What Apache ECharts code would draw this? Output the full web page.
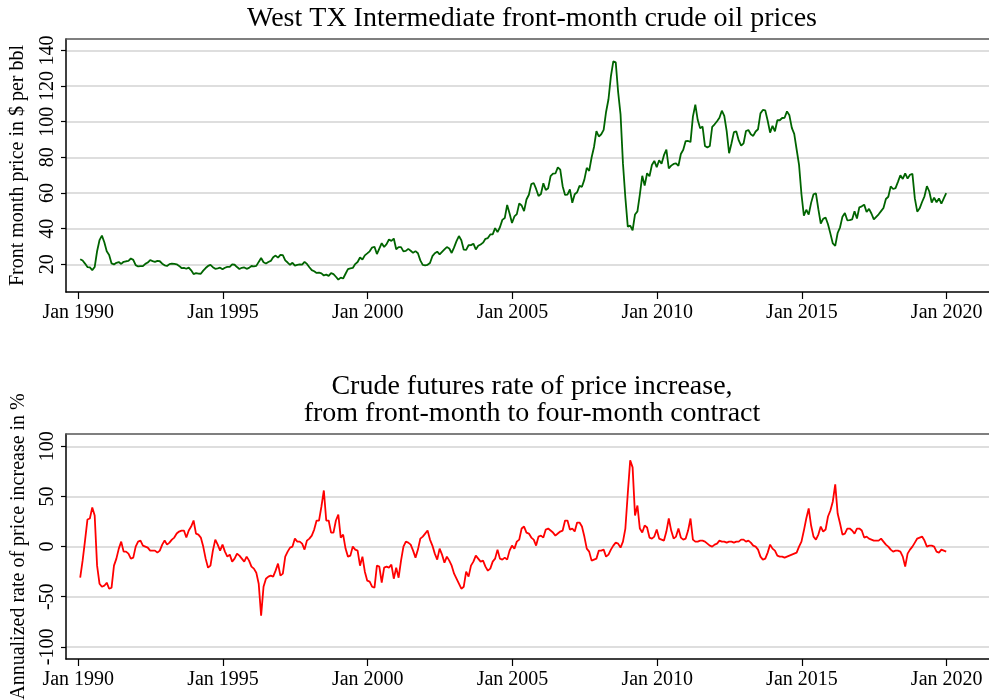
<!DOCTYPE html>
<html>
<head>
<meta charset="utf-8">
<title>Crude oil prices</title>
<script src="https://cdn.jsdelivr.net/npm/echarts@6/dist/echarts.min.js"></script>
<style>
  html, body { margin: 0; padding: 0; background: #fff; }
  #chart { width: 989px; height: 700px; }
</style>
</head>
<body>
<div id="chart"></div>
<script>
// monthly values, Jan 1990 .. Dec 2019
const startYear = 1990;
const yearTicks = [1990, 1995, 2000, 2005, 2010, 2015, 2020];
const priceTicks = [20, 40, 60, 80, 100, 120, 140];
const rateTicks = [-100, -50, 0, 50, 100];

// front-month WTI, $ per bbl
const wtiPrice = [
  22.86, 22.11, 20.39, 18.43, 18.20, 16.70, 18.45, 27.31, 33.51, 36.04, 32.33, 27.28,
  25.23, 20.48, 19.90, 20.83, 21.23, 20.19, 21.40, 21.69, 21.89, 23.23, 22.46, 19.50,
  18.79, 19.01, 18.92, 20.23, 20.98, 22.39, 21.78, 21.34, 21.88, 21.69, 20.34, 19.41,
  19.03, 20.09, 20.32, 20.25, 19.95, 19.09, 17.89, 18.01, 17.50, 18.15, 16.61, 14.52,
  15.03, 14.78, 14.68, 16.42, 17.89, 19.06, 19.66, 18.38, 17.45, 17.72, 18.07, 17.16,
  18.04, 18.57, 18.54, 19.90, 19.74, 18.45, 17.33, 18.02, 18.23, 17.43, 17.99, 19.03,
  18.86, 19.09, 21.33, 23.50, 21.17, 20.42, 21.30, 21.90, 23.97, 24.88, 23.71, 25.23,
  25.13, 22.18, 20.97, 19.70, 20.82, 19.26, 19.66, 19.95, 19.80, 21.33, 20.19, 18.33,
  16.72, 16.06, 15.12, 15.35, 14.91, 13.72, 14.17, 13.47, 15.03, 14.46, 13.00, 11.35,
  12.52, 12.01, 14.68, 17.31, 17.72, 17.92, 20.10, 21.28, 23.80, 22.69, 25.00, 26.10,
  27.26, 29.37, 29.84, 25.72, 28.79, 31.82, 29.70, 31.26, 33.88, 33.11, 34.42, 28.44,
  29.59, 29.61, 27.25, 27.49, 28.63, 27.60, 26.43, 27.37, 26.20, 22.17, 19.64, 19.39,
  19.72, 20.72, 24.53, 26.18, 27.04, 25.52, 26.97, 28.39, 29.66, 28.84, 26.35, 29.46,
  32.95, 35.83, 33.51, 28.17, 28.11, 30.66, 30.75, 31.57, 28.31, 30.34, 31.11, 32.13,
  34.31, 34.69, 36.74, 36.75, 40.28, 38.03, 40.78, 44.90, 45.94, 53.28, 48.47, 43.15,
  46.84, 48.15, 54.19, 52.98, 49.83, 56.35, 59.00, 64.99, 65.59, 62.26, 58.32, 59.41,
  65.49, 61.63, 62.69, 69.44, 70.84, 70.95, 74.41, 73.04, 63.80, 58.89, 59.08, 61.96,
  54.51, 59.28, 60.44, 63.98, 63.46, 67.49, 74.12, 72.36, 79.92, 85.80, 94.77, 91.69,
  92.97, 95.39, 105.45, 112.58, 125.40, 133.88, 133.37, 116.67, 104.11, 76.61, 57.31, 41.12,
  41.71, 39.09, 47.94, 49.65, 59.03, 69.64, 64.15, 71.05, 69.41, 75.72, 77.99, 74.47,
  78.33, 76.39, 81.20, 84.29, 73.74, 75.34, 76.32, 76.60, 75.24, 81.89, 84.25, 89.15,
  89.17, 88.58, 102.86, 109.53, 100.90, 96.26, 97.30, 86.33, 85.52, 86.32, 97.16, 98.56,
  100.27, 102.20, 106.16, 103.32, 94.66, 82.30, 87.90, 94.13, 94.51, 89.49, 86.53, 87.86,
  94.76, 95.31, 92.94, 92.02, 94.51, 95.77, 104.67, 106.57, 106.29, 100.54, 93.86, 97.63,
  94.62, 100.82, 100.80, 102.07, 102.18, 105.79, 103.59, 96.54, 93.21, 84.40, 75.79, 59.29,
  47.22, 50.58, 47.82, 54.45, 59.27, 59.82, 50.90, 42.87, 45.48, 46.22, 42.44, 37.19,
  31.68, 30.32, 37.55, 40.75, 46.71, 48.76, 44.65, 44.72, 45.18, 49.78, 45.66, 51.97,
  52.50, 53.47, 49.33, 51.06, 48.48, 45.18, 46.63, 48.04, 49.82, 51.58, 56.64, 57.88,
  63.70, 62.23, 62.73, 66.25, 69.98, 67.87, 70.98, 68.06, 70.23, 70.75, 56.96, 49.52,
  51.38, 54.95, 58.15, 63.86, 60.83, 54.66, 57.35, 54.81, 56.95, 53.96, 57.03, 59.88
];

// annualized rate of price increase, front-month to four-month contract, %
const futuresRate = [
  -31, -14, 6, 27, 28, 39, 31, -19, -37, -40,
  -39, -36, -42, -41, -19, -12, -2, 5, -5, -5,
  -7, -12, -11, 0, 5, 6, 1, 0, -1, -4,
  -4, -4, -6, -4, 2, 6, 2, 4, 7, 9,
  13, 15, 16, 16, 9, 16, 20, 26, 13, 12,
  9, 0, -12, -21, -19, -4, 7, 2, -4, 2,
  -5, -10, -8, -15, -12, -7, -9, -12, -15, -10,
  -14, -20, -22, -26, -37, -69, -40, -32, -30, -29,
  -30, -24, -17, -29, -27, -10, -5, -1, 0, 8,
  5, 5, 3, -3, 6, 8, 11, 17, 26, 26,
  40, 56, 26, 26, 14, 14, 26, 32, 9, 12,
  -2, -10, -9, 0, -3, -4, -19, -10, -25, -34,
  -35, -40, -41, -19, -20, -36, -21, -20, -21, -18,
  -32, -21, -31, -14, 0, 5, 4, 2, -4, -11,
  -3, 8, 10, 13, 16, 7, 1, -7, -13, -2,
  -8, -16, -10, -14, -19, -27, -32, -37, -42, -40,
  -25, -30, -19, -15, -9, -12, -15, -14, -20, -24,
  -22, -15, -12, -3, -12, -13, -11, -13, -4, 1,
  -2, 5, 7, 18, 20, 14, 13, 9, 7, 1,
  10, 11, 9, 17, 18, 16, 14, 11, 13, 15,
  16, 26, 26, 17, 18, 15, 24, 24, 20, 10,
  -2, -5, -14, -13, -12, -4, -4, -3, -10, -8,
  -3, 1, 4, 3, -1, 5, 18, 53, 86, 79,
  31, 41, 18, 14, 21, 19, 9, 8, 10, 17,
  8, 7, 6, 15, 28, 16, 8, 10, 18, 9,
  7, 8, 16, 28, 7, 5, 5, 6, 6, 5,
  3, 1, 0, 2, 3, 6, 5, 5, 4, 5,
  5, 4, 5, 5, 7, 7, 5, 6, 4, 1,
  0, -3, -10, -13, -12, -6, 2, -2, -4, -9,
  -10, -10, -11, -10, -9, -8, -7, -6, 0, 5,
  16, 28, 38, 21, 10, 7, 12, 20, 15, 17,
  30, 36, 45, 62, 33, 23, 12, 13, 18, 18,
  16, 13, 18, 18, 16, 9, 10, 8, 7, 6,
  6, 6, 8, 5, 2, 0, -3, -5, -4, -4,
  -5, -10, -20, -7, -3, 0, 4, 8, 9, 10,
  6, 0, 1, 1, 0, -5, -6, -3, -4, -5
];

const font = "'Liberation Serif', 'Times New Roman', serif";
const xMin = 1989.576;
const xMax = 2021.462;
const toDate = i => startYear + (i + 0.8) / 12;
const priceData = wtiPrice.map((v, i) => [toDate(i), v]);
const rateData = futuresRate.map((v, i) => [toDate(i), v]);

function xAxisFor(gridIndex, labelMargin) {
    return {
        type: "value",
        gridIndex: gridIndex,
        min: xMin,
        max: xMax,
        axisLine: { show: true, onZero: false, lineStyle: { color: "#000", width: 1.5 } },
        axisTick: { show: true, length: 7, customValues: yearTicks, lineStyle: { color: "#000", width: 1.2 } },
        axisLabel: {
            customValues: yearTicks,
            margin: labelMargin,
            color: "#000",
            fontFamily: font,
            fontSize: 20,
            formatter: v => "Jan " + v
        },
        splitLine: { show: false }
    }
}

// plain line along the top of each plot region
function topBorderFor(gridIndex) {
    return {
        type: "value",
        gridIndex: gridIndex,
        position: "top",
        min: xMin,
        max: xMax,
        axisLine: { show: true, onZero: false, lineStyle: { color: "#555", width: 1.5 } },
        axisTick: { show: false },
        axisLabel: { show: false },
        splitLine: { show: false }
    }
}

function yAxisFor(gridIndex, min, max, ticks, title, gap) {
    return {
        type: "value",
        gridIndex: gridIndex,
        min: min,
        max: max,
        name: title,
        nameLocation: "middle",
        nameGap: gap,
        nameTextStyle: { color: "#000", fontFamily: font, fontSize: 20 },
        axisLine: { show: true, onZero: false, lineStyle: { color: "#000", width: 1.5 } },
        axisTick: { show: true, length: 5, customValues: ticks, lineStyle: { color: "#000", width: 1.2 } },
        axisLabel: {
            customValues: ticks,
            rotate: 90,
            margin: 8,
            color: "#000",
            fontFamily: font,
            fontSize: 20
        },
        splitLine: { show: true, lineStyle: { color: "#dedede", width: 2 } }
    }
}

const chart = echarts.init(document.getElementById("chart"), null, { renderer: "canvas" });
const option = {
    backgroundColor: "#fff",
    animation: false,
    title: [
        {
            text: "West TX Intermediate front-month crude oil prices",
            left: 527,
            top: 0,
            textAlign: "center",
            textStyle: { color: "#000", fontFamily: font, fontSize: 28, fontWeight: "normal" }
        },
        {
            text: "Crude futures rate of price increase,\nfrom front-month to four-month contract",
            left: 527,
            top: 368,
            textAlign: "center",
            textStyle: { color: "#000", fontFamily: font, fontSize: 28, fontWeight: "normal", lineHeight: 27 }
        }
    ],
    grid: [
        { left: 66, right: 0, top: 39, bottom: 408, outerBoundsMode: "none" },
        { left: 66, right: 0, top: 434, bottom: 41, outerBoundsMode: "none" }
    ],
    xAxis: [xAxisFor(0, 11), xAxisFor(1, 11), topBorderFor(0), topBorderFor(1)],
    yAxis: [
        yAxisFor(0, 4.44, 146.4, priceTicks, "Front month price in $ per bbl", 38),
        yAxisFor(1, -112.1, 112.3, rateTicks, "Annualized rate of price increase in %", 37)
    ],
    series: [
        {
            name: "WTI front month",
            type: "line",
            xAxisIndex: 0,
            yAxisIndex: 0,
            showSymbol: false,
            lineStyle: { color: "#006400", width: 1.8 },
            data: priceData
        },
        {
            name: "Rate of increase",
            type: "line",
            xAxisIndex: 1,
            yAxisIndex: 1,
            showSymbol: false,
            lineStyle: { color: "#ff0000", width: 1.8 },
            data: rateData
        }
    ]
};
chart.setOption(option);
</script>
</body>
</html>
